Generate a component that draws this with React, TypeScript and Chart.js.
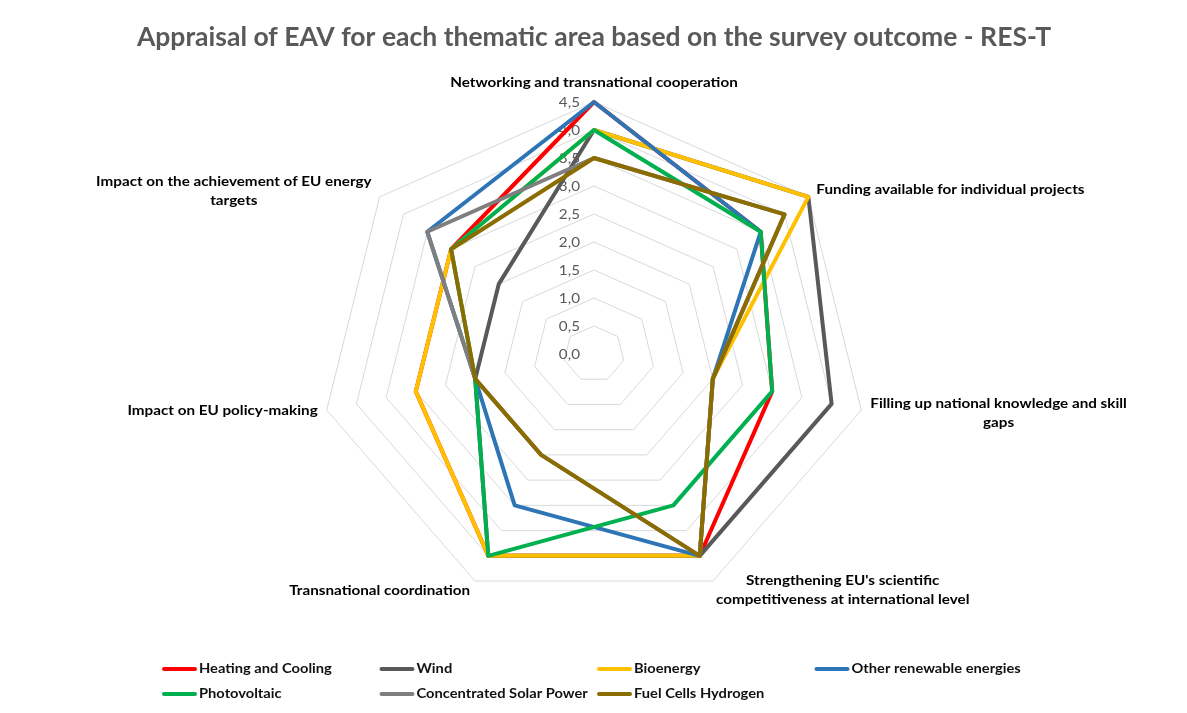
import React, { useEffect, useRef } from 'react';
import { Chart, registerables, RadialLinearScale } from 'chart.js';

Chart.register(...registerables);

// ---------- data ----------
const TITLE = 'Appraisal of EAV for each thematic area based on the survey outcome - RES-T';

const categories: (string | string[])[] = [
  'Networking and transnational cooperation',
  'Funding available for individual projects',
  ['Filling up national knowledge and skill', 'gaps'],
  ["Strengthening EU's scientific", 'competitiveness at international level'],
  'Transnational coordination',
  'Impact on EU policy-making',
  ['Impact on the achievement of EU energy', 'targets'],
];

const seriesNames = [
  'Heating and Cooling',
  'Wind',
  'Bioenergy',
  'Other renewable energies',
  'Photovoltaic',
  'Concentrated Solar Power',
  'Fuel Cells Hydrogen',
];

const heatingCooling = [4.5, 3.5, 3.0, 4.0, 4.0, 3.0, 3.0];
const wind = [4.0, 4.5, 4.0, 4.0, 4.0, 2.0, 2.0];
const bioenergy = [4.0, 4.5, 2.0, 4.0, 4.0, 3.0, 3.0];
const otherRenewable = [4.5, 3.5, 2.0, 4.0, 3.0, 2.0, 3.5];
const photovoltaic = [4.0, 3.5, 3.0, 3.0, 4.0, 2.0, 3.0];
const concentratedSolar = [3.5, 4.0, 2.0, 4.0, 2.0, 2.0, 3.5];
const fuelCellsHydrogen = [3.5, 4.0, 2.0, 4.0, 2.0, 2.0, 3.0];

const seriesValues = [
  heatingCooling,
  wind,
  bioenergy,
  otherRenewable,
  photovoltaic,
  concentratedSolar,
  fuelCellsHydrogen,
];

const seriesColors = ['#FF0000', '#595959', '#FFC000', '#2E75B6', '#00B050', '#7F7F7F', '#8B6C00'];

const AXIS_MIN = 0;
const AXIS_MAX = 4.5;
const AXIS_STEP = 0.5;

// ---------- styling ----------
const FONT = 'Lato, "Open Sans", "DejaVu Sans", sans-serif';
const H_STRETCH = 1.088;

// label placement relative to the outer-ring vertex of each axis
const labelLayout = [
  { anchor: 'center', dx: 0, dy: -20 },
  { anchor: 'left', dx: 8, dy: -7 },
  { anchor: 'left', dx: 9, dy: 3 },
  { anchor: 'left', dx: 3, dy: 9 },
  { anchor: 'right', dx: -5, dy: 9 },
  { anchor: 'right', dx: -9, dy: 0 },
  { anchor: 'right', dx: -8, dy: -6 },
];

class StretchedRadialScale extends RadialLinearScale {
  static id = 'stretchedRadial';
  getPointPosition(index: number, distanceFromCenter: number, additionalAngle = 0) {
    const p = super.getPointPosition(index, distanceFromCenter, additionalAngle);
    return { x: this.xCenter + (p.x - this.xCenter) * H_STRETCH, y: p.y, angle: p.angle };
  }
}
Chart.register(StretchedRadialScale);

const fmtTick = (v: number) => v.toFixed(1).replace('.', ',');

// draw text with the same horizontal stretch as the plot
function drawWide(ctx: CanvasRenderingContext2D, text: string, x: number, y: number, align: CanvasTextAlign) {
  ctx.save();
  ctx.translate(x, y);
  ctx.scale(H_STRETCH, 1);
  ctx.textAlign = align;
  ctx.fillText(text, 0, 0);
  ctx.restore();
}

const tickLabelPlugin = {
  id: 'tickLabelPlugin',
  beforeDatasetsDraw(chart: any) {
    const scale = chart.scales.r;
    const ctx = chart.ctx;
    ctx.save();
    ctx.font = `14px ${FONT}`;
    ctx.fillStyle = '#595959';
    ctx.textBaseline = 'middle';
    scale.ticks.forEach((t: any) => {
      const p = scale.getPointPositionForValue(0, t.value);
      drawWide(ctx, fmtTick(t.value), scale.xCenter - 14, p.y, 'right');
    });
    ctx.restore();
  },
};

const pointLabelPlugin = {
  id: 'pointLabelPlugin',
  afterDraw(chart: any) {
    const scale = chart.scales.r;
    const ctx = chart.ctx;
    const labels = chart.data.labels as (string | string[])[];
    ctx.save();
    ctx.font = `bold 14px ${FONT}`;
    ctx.fillStyle = '#000000';
    ctx.textBaseline = 'middle';
    const lh = 19;
    labels.forEach((lab, i) => {
      const lines = Array.isArray(lab) ? lab : [lab];
      const p = scale.getPointPositionForValue(i, AXIS_MAX);
      const L = labelLayout[i];
      const w = Math.max(...lines.map((l) => ctx.measureText(l).width)) * H_STRETCH;
      let cx = p.x + L.dx;
      if (L.anchor === 'left') cx += w / 2;
      if (L.anchor === 'right') cx -= w / 2;
      const cy = p.y + L.dy;
      const top = cy - ((lines.length - 1) * lh) / 2;
      lines.forEach((l, k) => drawWide(ctx, l, cx, top + k * lh, 'center'));
    });
    ctx.restore();
  },
};

const legendPlugin = {
  id: 'customLegend',
  afterDraw(chart: any) {
    const ctx = chart.ctx;
    ctx.save();
    ctx.font = `bold 13.5px ${FONT}`;
    ctx.textBaseline = 'middle';
    chart.data.datasets.forEach((ds: any, i: number) => {
      const col = i % 4;
      const row = Math.floor(i / 4);
      const x = 164 + col * 217.5;
      const y = 669 + row * 25;
      ctx.strokeStyle = ds.borderColor;
      ctx.lineWidth = 4;
      ctx.lineCap = 'round';
      ctx.beginPath();
      ctx.moveTo(x, y);
      ctx.lineTo(x + 31, y);
      ctx.stroke();
      ctx.fillStyle = '#111111';
      drawWide(ctx, ds.label, x + 35, y, 'left');
    });
    ctx.restore();
  },
};

export default function App() {
  const ref = useRef<HTMLCanvasElement | null>(null);

  useEffect(() => {
    if (!ref.current) return;
    const n = seriesValues.length;
    const chart = new Chart(ref.current, {
      type: 'radar',
      data: {
        labels: categories as any,
        datasets: seriesValues.map((vals, i) => ({
          label: seriesNames[i],
          data: vals,
          borderColor: seriesColors[i],
          backgroundColor: seriesColors[i],
          borderWidth: 4,
          borderJoinStyle: 'round' as const,
          pointRadius: 0,
          pointHoverRadius: 0,
          fill: false,
          tension: 0,
          clip: false as any,
          order: n - 1 - i,
        })),
      },
      options: {
        responsive: false,
        animation: false,
        layout: { padding: { top: 0, bottom: 107, left: 20, right: 19 } },
        plugins: {
          legend: { display: false },
          tooltip: { enabled: false },
          title: {
            display: true,
            text: TITLE,
            color: '#595959',
            font: { family: FONT, size: 26.5, weight: 'bold', lineHeight: 1.2 },
            padding: { top: 21.1, bottom: 49.1 },
          },
        },
        scales: {
          r: {
            type: 'stretchedRadial' as any,
            min: AXIS_MIN,
            max: AXIS_MAX,
            ticks: { display: false, stepSize: AXIS_STEP },
            grid: { color: '#D9D9D9', lineWidth: 1 },
            angleLines: { display: false },
            pointLabels: { display: false },
          },
        },
      } as any,
      plugins: [tickLabelPlugin, pointLabelPlugin, legendPlugin],
    });
    return () => chart.destroy();
  }, []);

  return (
    <canvas
      ref={ref}
      width={1187}
      height={713}
      style={{ position: 'absolute', left: 0, top: 0, width: 1187, height: 713, display: 'block', background: '#ffffff' }}
    />
  );
}
